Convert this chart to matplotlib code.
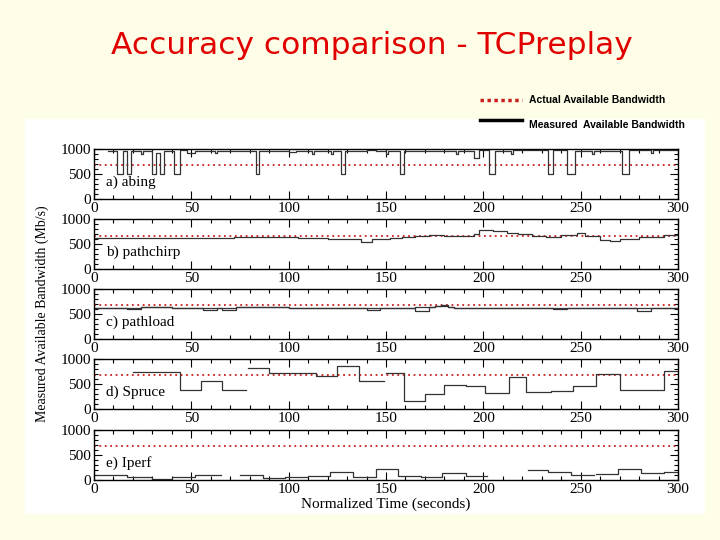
#!/usr/bin/env python3
"""Accuracy comparison of bandwidth estimators under TCPreplay traffic."""

import numpy as np
import matplotlib.pyplot as plt
from matplotlib.lines import Line2D
from matplotlib.patches import Rectangle
from matplotlib.ticker import MultipleLocator

nan = np.nan

# step series: each value holds from its time until the next time
abing_t = [7, 12, 15, 17, 19, 24, 25, 30, 32, 34, 36, 41, 44, 48, 52, 62, 63,
           83, 85, 100, 104, 112, 113, 122, 123, 127, 129, 140, 145, 150, 151,
           157, 159, 175, 186, 187, 195, 198, 203, 206, 214, 215, 233, 236,
           243, 247, 256, 257, 271, 275, 286, 287, 300]
abing_bw = [960, 500, 960, 500, 970, 900, 970, 500, 930, 500, 960, 500, 980,
            930, 970, 920, 970, 500, 960, 940, 970, 900, 970, 910, 970, 500,
            960, 990, 960, 900, 960, 500, 970, 960, 910, 960, 820, 980, 500,
            960, 900, 980, 500, 980, 500, 970, 910, 970, 500, 990, 920, 990,
            990]

chirp_t = [0, 72, 78, 100, 105, 120, 130, 137, 143, 152, 158, 165, 172, 180,
           185, 195, 198, 205, 212, 218, 225, 232, 240, 248, 252, 260, 265,
           270, 280, 293, 300]
chirp_bw = [630, 650, 640, 650, 620, 600, 610, 540, 600, 620, 650, 670, 690,
            660, 660, 700, 780, 760, 730, 700, 660, 640, 680, 730, 670, 590,
            560, 600, 640, 680, 680]

load_t = [0, 17, 24, 40, 56, 63, 66, 73, 100, 140, 147, 165, 172, 175, 178,
          182, 185, 236, 243, 279, 286, 300]
load_lo = [630, 600, 640, 620, 580, 625, 580, 635, 625, 580, 630, 570, 640,
           660, 670, 650, 630, 595, 625, 570, 630, 630]
load_hi = [630, 625, 640, 620, 625, 625, 630, 635, 625, 625, 630, 640, 640,
           660, 680, 650, 630, 615, 625, 625, 630, 630]

spruce_t = [20, 31, 44, 55, 66, 78, 79, 90, 104, 114, 125, 136, 149, 150, 159,
            170, 180, 191, 201, 213, 222, 235, 246, 258, 270, 282, 293, 300]
spruce_bw = [750, 750, 390, 570, 390, nan, 820, 730, 720, 660, 870, 570, nan,
             720, 155, 300, 480, 470, 320, 650, 350, 370, 470, 700, 380, 390,
             770, 770]

iperf_t = [0, 17, 30, 40, 52, 65, 75, 87, 98, 110, 121, 133, 145, 156, 168,
           179, 191, 202, 223, 233, 245, 257, 258, 269, 281, 293, 300]
iperf_bw = [100, 70, 30, 55, 100, nan, 110, 35, 55, 85, 165, 60, 225, 80, 55,
            150, 85, nan, 205, 170, 105, nan, 125, 225, 145, 160, 160]

tool_names = ["a) abing", "b) pathchirp", "c) pathload", "d) Spruce", "e) Iperf"]
actual_bw = [680, 670, 685, 680, 680]

W, H = 720, 540
RED = "#cc2020"


def fx(px):
    return px / W


def fy(py):
    return 1 - py / H


def style_axis(ax):
    ax.set_xlim(0, 300)
    ax.set_ylim(0, 1000)
    ax.xaxis.set_major_locator(MultipleLocator(50))
    ax.xaxis.set_minor_locator(MultipleLocator(10))
    ax.yaxis.set_major_locator(MultipleLocator(500))
    ax.yaxis.set_minor_locator(MultipleLocator(100))
    ax.tick_params(which="both", direction="in", top=True, right=True,
                   labelsize=11, width=0.8, pad=2)
    ax.tick_params(which="major", length=6)
    ax.tick_params(which="minor", length=3)
    for spine in ax.spines.values():
        spine.set_linewidth(1.0)
    ax.set_facecolor("white")


def main():
    plt.rcParams["font.family"] = ["Liberation Serif", "DejaVu Serif"]
    fig = plt.figure(figsize=(W / 100, H / 100), dpi=100, facecolor="#fefee8")
    fig.patches.append(Rectangle((fx(25), fy(514)), fx(680), 395 / H,
                                 transform=fig.transFigure, facecolor="white",
                                 edgecolor="none", zorder=-5))

    fig.text(fx(372), fy(46), "Accuracy comparison - TCPreplay", color="#e00000",
             fontsize=22.5, ha="center", va="center", family="DejaVu Sans")

    # legend drawn in figure coordinates, as on the slide
    fig.add_artist(Line2D([fx(480), fx(522)], [fy(100), fy(100)], color=RED,
                          linestyle=(0, (1, 1)), linewidth=2.5))
    fig.add_artist(Line2D([fx(480), fx(522)], [fy(120), fy(120)], color="black",
                          linewidth=2.5))
    for py, label in [(100, "Actual Available Bandwidth"),
                      (125, "Measured  Available Bandwidth")]:
        fig.text(fx(529), fy(py), label, fontsize=7.5, weight="bold",
                 family="Liberation Sans", va="center")

    series = [(abing_t, [abing_bw]), (chirp_t, [chirp_bw]),
              (load_t, [load_lo, load_hi]), (spruce_t, [spruce_bw]),
              (iperf_t, [iperf_bw])]
    tops = [149, 219, 289, 359, 430]
    for top, name, actual, (t, values) in zip(tops, tool_names, actual_bw, series):
        ax = fig.add_axes([fx(94), fy(top + 50), fx(584), 50 / H])
        style_axis(ax)
        ax.axhline(actual, color=RED, linestyle=(0, (1, 2)), linewidth=1.3)
        for v in values:
            ax.step(t, v, where="post", color="#333333", linewidth=0.9)
        ax.text(6, 340, name, fontsize=11, va="center")

    fig.text(fx(42), fy(314), "Measured Available Bandwidth (Mb/s)",
             rotation=90, ha="center", va="center", fontsize=10)
    fig.text(fx(386), fy(504), "Normalized Time (seconds)",
             ha="center", va="center", fontsize=11)

    fig.savefig("out.png", dpi=100, facecolor=fig.get_facecolor())
    plt.close(fig)


if __name__ == "__main__":
    main()
